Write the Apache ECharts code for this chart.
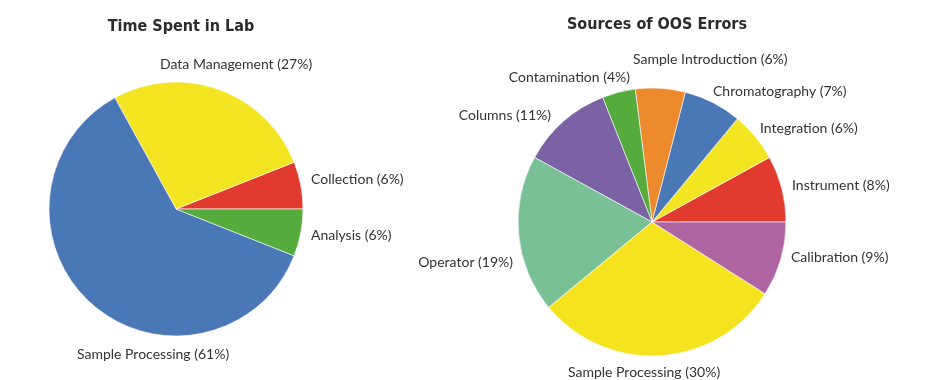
<!DOCTYPE html>
<html>
<head>
<meta charset="utf-8">
<script src="https://cdn.jsdelivr.net/npm/echarts@6/dist/echarts.min.js"></script>
<style>
html,body{margin:0;padding:0;background:#fff;}
#chart{width:944px;height:380px;}
</style>
</head>
<body>
<div id="chart"></div>
<script>
// ---- data ----
var labCategories = ['Collection', 'Data Management', 'Sample Processing', 'Analysis'];
var labValues = [6, 27, 61, 6];
var labColors = ['#e13a2e', '#f3e522', '#4a77b5', '#55ab3b'];

var oosCategories = ['Instrument', 'Integration', 'Chromatography', 'Sample Introduction', 'Contamination', 'Columns', 'Operator', 'Sample Processing', 'Calibration'];
var oosValues = [8, 6, 7, 6, 4, 11, 19, 30, 9];
var oosColors = ['#e13a2e', '#f4e523', '#4a77b5', '#ee8a2e', '#55ab3b', '#7b62a4', '#79c097', '#f6e31f', '#b065a3'];

var titles = ['Time Spent in Lab', 'Sources of OOS Errors'];

// ---- label placement (text anchors, not marks) ----
var labelPlace = [
  {
    'Data Management': {x: 160, y: 64, align: 'left'},
    'Collection': {x: 311, y: 179, align: 'left'},
    'Analysis': {x: 311, y: 235, align: 'left'},
    'Sample Processing': {x: 77, y: 354, align: 'left'}
  },
  {
    'Sample Introduction': {x: 633, y: 59, align: 'left'},
    'Contamination': {x: 630, y: 77, align: 'right'},
    'Chromatography': {x: 713, y: 91, align: 'left'},
    'Columns': {x: 551, y: 115, align: 'right'},
    'Integration': {x: 760, y: 128, align: 'left'},
    'Instrument': {x: 792, y: 185, align: 'left'},
    'Calibration': {x: 791, y: 257, align: 'left'},
    'Operator': {x: 513, y: 262, align: 'right'},
    'Sample Processing': {x: 568, y: 372, align: 'left'}
  }
];
var seriesCats = [labCategories, oosCategories];

function build(cats, vals, cols) {
  return cats.map(function (c, i) {
    return {name: c, value: vals[i], itemStyle: {color: cols[i]}};
  });
}

function layoutFn(params) {
  var s = params.seriesIndex;
  var name = seriesCats[s][params.dataIndex];
  var p = labelPlace[s][name];
  if (!p) return {};
  return {x: p.x, y: p.y, align: p.align, verticalAlign: 'middle'};
}

var labelFont = {
  fontFamily: 'Lato',
  fontSize: 14,
  color: '#333333',
  formatter: '{b} ({c}%)'
};
var titleFont = {fontFamily: "'DejaVu Sans Condensed', Roboto, sans-serif", fontWeight: 'bold', fontSize: 16, color: '#2b2b2b'};

var chart = echarts.init(document.getElementById('chart'), null, {renderer: 'canvas'});
chart.setOption({
  backgroundColor: '#ffffff',
  animation: false,
  title: [
    {text: titles[0], left: 176, top: 14, textAlign: 'center', textStyle: titleFont},
    {text: titles[1], left: 652, top: 12, textAlign: 'center', textStyle: titleFont}
  ],
  series: [
    {
      type: 'pie',
      center: [176, 209],
      radius: 127,
      startAngle: 0,
      clockwise: false,
      avoidLabelOverlap: false,
      itemStyle: {borderColor: 'rgba(255,255,255,0.6)', borderWidth: 1},
      label: Object.assign({show: true, position: 'outside'}, labelFont),
      labelLine: {show: false},
      labelLayout: layoutFn,
      emphasis: {disabled: true},
      data: build(labCategories, labValues, labColors)
    },
    {
      type: 'pie',
      center: [652, 222],
      radius: 134,
      startAngle: 0,
      clockwise: false,
      avoidLabelOverlap: false,
      itemStyle: {borderColor: 'rgba(255,255,255,0.6)', borderWidth: 1},
      label: Object.assign({show: true, position: 'outside'}, labelFont),
      labelLine: {show: false},
      labelLayout: layoutFn,
      emphasis: {disabled: true},
      data: build(oosCategories, oosValues, oosColors)
    }
  ]
});
</script>
</body>
</html>
